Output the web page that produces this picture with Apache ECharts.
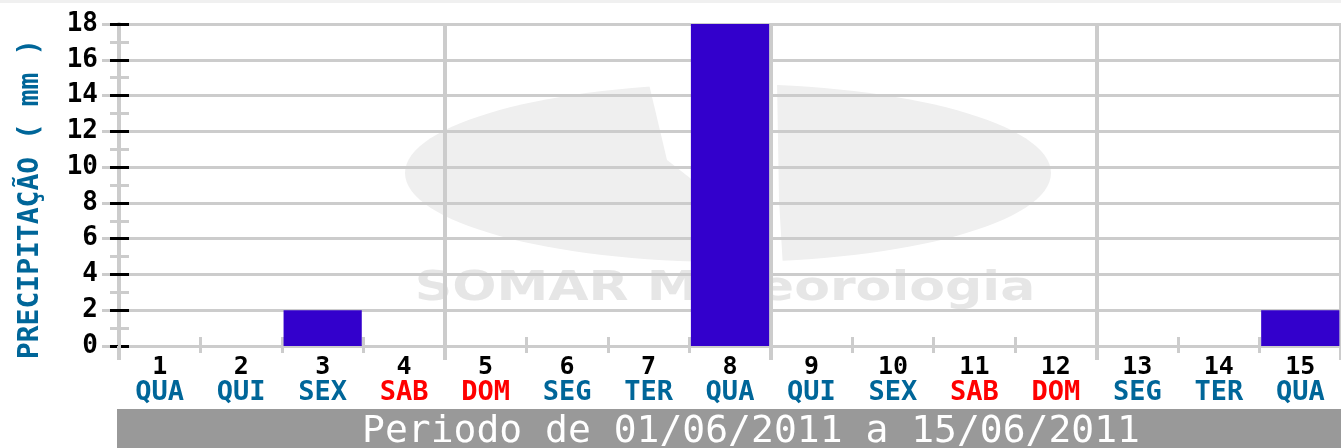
<!DOCTYPE html>
<html>
<head>
<meta charset="utf-8">
<script src="https://cdn.jsdelivr.net/npm/echarts@6/dist/echarts.min.js"></script>
<style>
  html, body { margin: 0; padding: 0; background: #ffffff; }
  #chart { width: 1341px; height: 448px; }
</style>
</head>
<body>
<div id="chart"></div>
<script>
// Daily rainfall, 1 to 15 June 2011
const days = ['1', '2', '3', '4', '5', '6', '7', '8', '9', '10', '11', '12', '13', '14', '15'];
const weekdays = ['QUA', 'QUI', 'SEX', 'SAB', 'DOM', 'SEG', 'TER', 'QUA', 'QUI', 'SEX', 'SAB', 'DOM', 'SEG', 'TER', 'QUA'];
const precipitation = [0, 0, 2, 0, 0, 0, 0, 18, 0, 0, 0, 0, 0, 0, 2];
const yTicks = { min: 0, max: 18, interval: 2 };
const axisTitle = 'PRECIPITAÇÃO ( mm )';
const periodText = 'Periodo de 01/06/2011 a 15/06/2011';
const watermarkText = 'SOMAR Meteorologia';

const weekend = ['SAB', 'DOM'];
const GRID_GRAY = '#cccccc';
const MONO = '"DejaVu Sans Mono", monospace';

const chart = echarts.init(document.getElementById('chart'), null, { renderer: 'canvas' });

function yAxisBase(extra) {
  return Object.assign({
    type: 'value',
    min: yTicks.min,
    max: yTicks.max,
    interval: yTicks.interval,
    position: 'left',
    axisLine: { show: false },
    axisTick: { show: false },
    axisLabel: { show: false },
    splitLine: { show: false }
  }, extra);
}

function xAxisBase(extra) {
  return Object.assign({
    type: 'category',
    data: days,
    position: 'bottom',
    boundaryGap: true,
    axisLine: { show: false },
    axisTick: { show: false },
    axisLabel: { show: false },
    splitLine: { show: false }
  }, extra);
}

const option = {
  backgroundColor: '#ffffff',
  animation: false,
  grid: { left: 119, top: 24, width: 1231, height: 322, containLabel: false },
  xAxis: [
    xAxisBase({
      axisLine: { show: true, lineStyle: { color: GRID_GRAY, width: 3 } },
      axisTick: {
        show: true, length: 14,
        interval: (i) => i % 4 === 0,
        lineStyle: { color: GRID_GRAY, width: 4 }
      },
      splitLine: {
        show: true,
        interval: (i) => i % 4 === 0 && i > 0,
        lineStyle: { color: GRID_GRAY, width: 4 }
      },
      axisLabel: {
        show: true, interval: 0, margin: 8,
        formatter: (value, index) => {
          const wd = weekdays[index];
          const style = weekend.indexOf(wd) >= 0 ? 'r' : 'b';
          return '{n|' + value + '}\n{' + style + '|' + wd + '}';
        },
        rich: {
          n: { fontFamily: MONO, fontWeight: 'bold', fontSize: 25, color: '#000000', lineHeight: 26 },
          b: { fontFamily: MONO, fontWeight: 'bold', fontSize: 27, color: '#006699', lineHeight: 26 },
          r: { fontFamily: MONO, fontWeight: 'bold', fontSize: 27, color: '#ff0000', lineHeight: 26 }
        }
      }
    }),
    xAxisBase({
      axisTick: { show: true, length: 7, interval: 0, lineStyle: { color: GRID_GRAY, width: 3 } }
    }),
    xAxisBase({
      axisTick: { show: true, inside: true, length: 9, interval: 0, lineStyle: { color: GRID_GRAY, width: 3 } }
    })
  ],
  yAxis: [
    yAxisBase({
      axisLine: { show: true, lineStyle: { color: GRID_GRAY, width: 4 } },
      axisTick: { show: true, length: 17, lineStyle: { color: GRID_GRAY, width: 3 } },
      splitLine: { show: true, lineStyle: { color: GRID_GRAY, width: 3 } },
      axisLabel: {
        show: true, margin: 21,
        fontFamily: MONO, fontWeight: 'bold', fontSize: 26, color: '#000000'
      }
    }),
    yAxisBase({
      axisTick: { show: true, length: 9, lineStyle: { color: '#000000', width: 3 } },
      minorTick: { show: true, splitNumber: 2, length: 9, lineStyle: { color: GRID_GRAY, width: 3 } }
    }),
    yAxisBase({
      axisTick: { show: true, inside: true, length: 10, lineStyle: { color: '#000000', width: 3 } },
      minorTick: { show: true, splitNumber: 2, length: 10, lineStyle: { color: GRID_GRAY, width: 3 } }
    })
  ],
  series: [{
    type: 'bar',
    xAxisIndex: 0,
    yAxisIndex: 0,
    data: precipitation,
    barCategoryGap: '4%',
    itemStyle: { color: '#3300cc' },
    z: 3
  }],
  graphic: [
    // thin band along the top edge
    { type: 'rect', z: -20, shape: { x: 0, y: 0, width: 1341, height: 3 }, style: { fill: '#f0f0f0' } },
    // watermark logo
    { type: 'ellipse', z: -20, shape: { cx: 728, cy: 173, rx: 323, ry: 89 }, style: { fill: '#efefef' } },
    {
      type: 'polygon', z: -19,
      shape: { points: [[648, 80], [777, 80], [779, 200], [783, 268], [740, 268], [715, 205], [690, 178], [667, 160]] },
      style: { fill: '#ffffff' }
    },
    {
      type: 'text', z: -18, x: 725, y: 289, scaleX: 1.27,
      style: {
        text: watermarkText, fill: '#e6e6e6',
        font: 'bold 41px "DejaVu Sans", sans-serif',
        textAlign: 'center', textVerticalAlign: 'middle'
      }
    },
    // vertical axis title
    {
      type: 'text', z: 10, x: 31, y: 199, rotation: Math.PI / 2,
      style: {
        text: axisTitle, fill: '#006699',
        font: 'bold 28px ' + MONO,
        textAlign: 'center', textVerticalAlign: 'middle'
      }
    },
    // period bar
    { type: 'rect', z: 10, shape: { x: 117, y: 409, width: 1224, height: 39 }, style: { fill: '#999999' } },
    {
      type: 'text', z: 11, x: 751, y: 432,
      style: {
        text: periodText, fill: '#ffffff',
        font: '38px ' + MONO,
        textAlign: 'center', textVerticalAlign: 'middle'
      }
    }
  ]
};

chart.setOption(option);
</script>
</body>
</html>
